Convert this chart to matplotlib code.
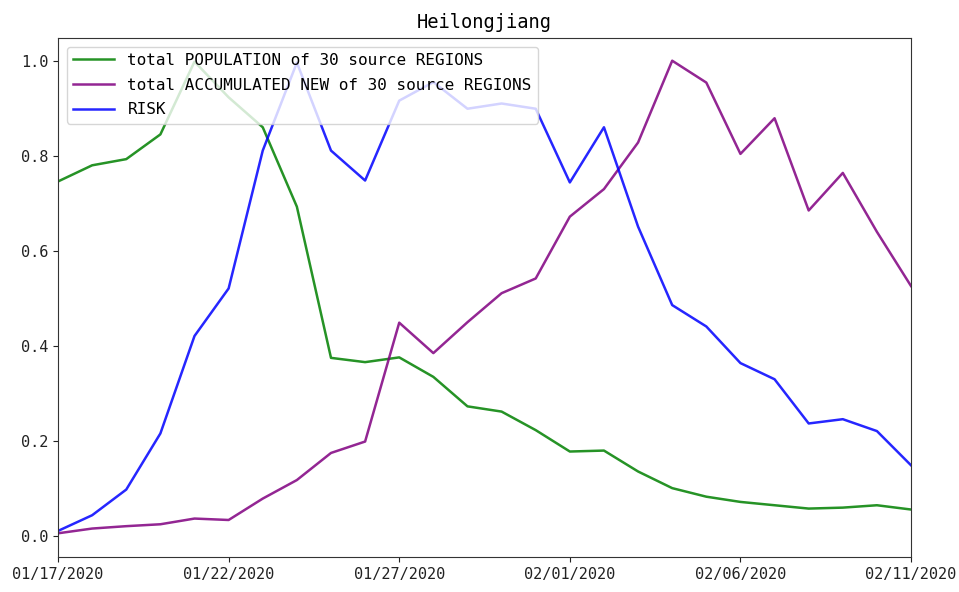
import numpy as np
import pandas as pd
import matplotlib
matplotlib.use("Agg")
import matplotlib.pyplot as plt
import matplotlib.dates as mdates

plt.rcParams['font.family'] = ['DejaVu Sans Mono']

dates = pd.date_range("2020-01-17", "2020-02-11", freq="D")

population = [0.746, 0.780, 0.793, 0.845, 0.998, 0.923, 0.860, 0.693, 0.375, 0.366,
              0.376, 0.335, 0.273, 0.262, 0.223, 0.178, 0.180, 0.136, 0.101, 0.083,
              0.072, 0.065, 0.058, 0.060, 0.065, 0.056]
accumulated_new = [0.006, 0.016, 0.021, 0.025, 0.037, 0.034, 0.079, 0.118, 0.175, 0.199,
                   0.449, 0.385, 0.450, 0.511, 0.542, 0.672, 0.730, 0.828, 1.000, 0.954,
                   0.804, 0.879, 0.685, 0.764, 0.640, 0.526]
risk = [0.011, 0.044, 0.098, 0.216, 0.421, 0.521, 0.811, 0.996, 0.811, 0.748,
        0.916, 0.955, 0.899, 0.910, 0.899, 0.744, 0.860, 0.651, 0.486, 0.441,
        0.364, 0.330, 0.237, 0.246, 0.221, 0.149]

series_labels = ["total POPULATION of 30 source REGIONS",
                 "total ACCUMULATED NEW of 30 source REGIONS",
                 "RISK"]
series_colors = ["green", "purple", "blue"]

fig = plt.figure(figsize=(9.59, 5.92), dpi=100)
ax = fig.add_axes([0.0605, 0.059, 0.8895, 0.877])

for values, label, color in zip([population, accumulated_new, risk], series_labels, series_colors):
    ax.plot(dates, values, color=color, linewidth=1.8, alpha=0.85, label=label)

ax.set_xlim(dates[0], dates[-1])
ax.set_ylim(-0.044, 1.048)
ax.set_yticks([0.0, 0.2, 0.4, 0.6, 0.8, 1.0])
ax.set_xticks(dates[::5])
ax.xaxis.set_major_formatter(mdates.DateFormatter("%m/%d/%Y"))
ax.tick_params(labelsize=11, colors="#222222")
for s in ax.spines.values():
    s.set_color("#333333")

ax.set_title("Heilongjiang", fontsize=13.5, pad=7)
ax.legend(loc="upper left", fontsize=11.5, handlelength=2.55, handletextpad=0.85,
          labelspacing=0.6, borderaxespad=0.55)

fig.savefig("out.png", dpi=100)
